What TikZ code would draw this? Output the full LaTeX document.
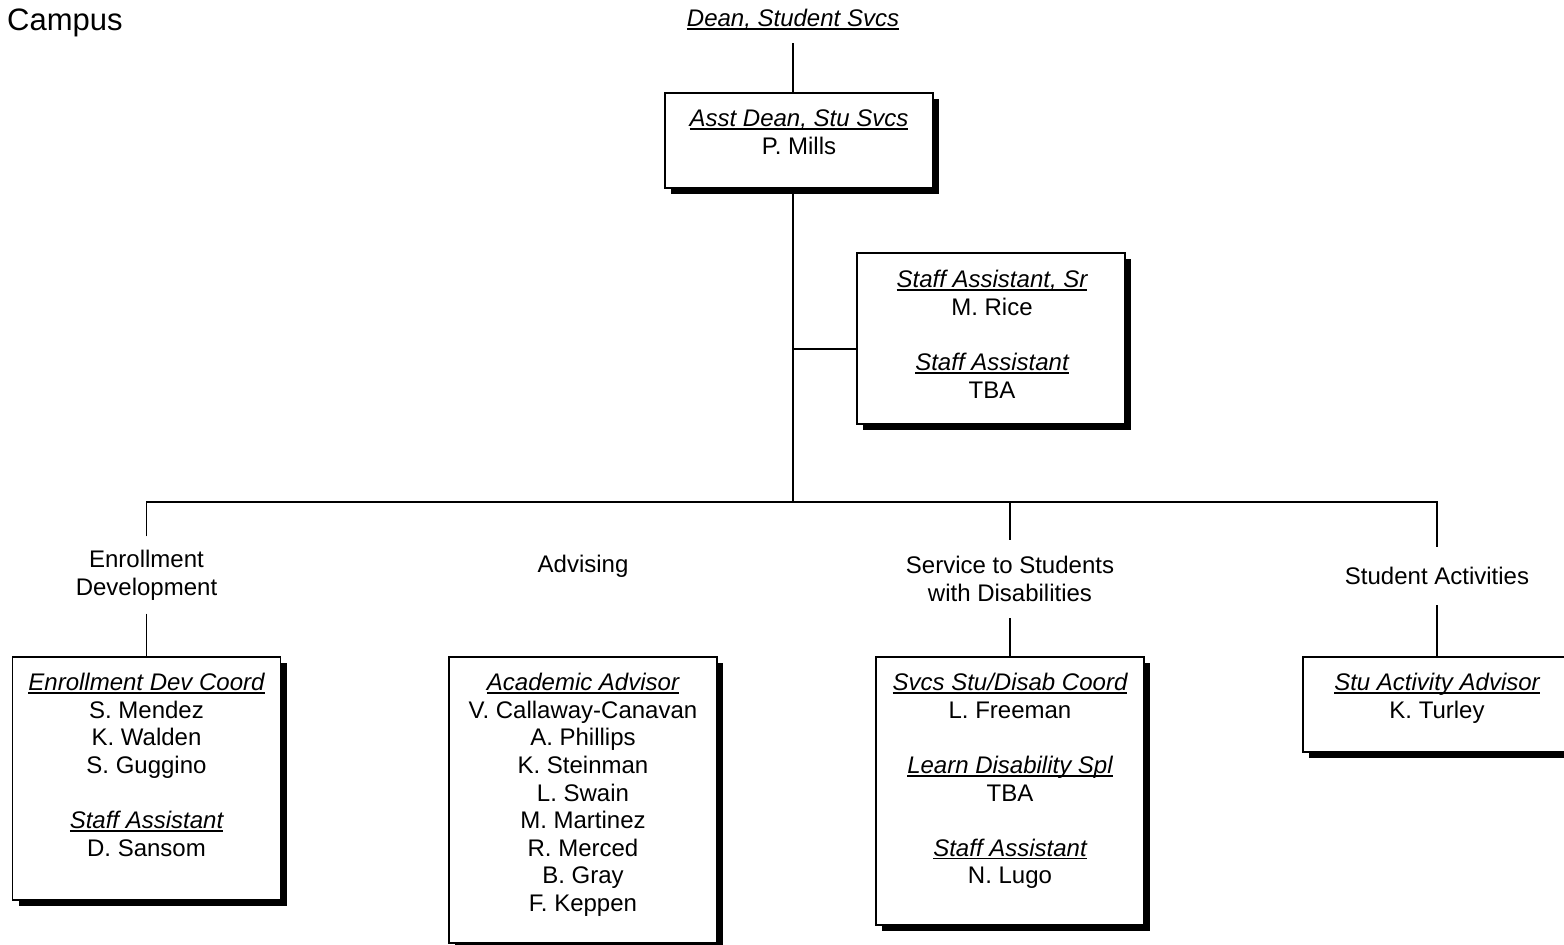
\documentclass[tikz,border=0pt]{standalone}
\usepackage{fontspec}
\setmainfont{Liberation Sans}
\usetikzlibrary{shadows}
\newsavebox\ulbox
\newcommand\myul[1]{\sbox\ulbox{\itshape #1}\rlap{\rule[-3pt]{\wd\ulbox}{1.4pt}}\usebox\ulbox}
\newcommand\ttl[1]{\rule{0pt}{18pt}\myul{#1}}
\begin{document}
\begin{tikzpicture}[x=1pt,y=-1pt,
  txt/.style={font=\fontsize{24}{27.6}\selectfont, align=center, inner sep=0pt},
  orgbox/.style={draw=black, line width=1.4pt, fill=white, inner sep=0pt, minimum width=268pt,
    drop shadow={shadow xshift=6pt, shadow yshift=-6pt, opacity=1, fill=black}},
  conn/.style={line width=1.7pt},
  block/.style={txt, anchor=north}]
\useasboundingbox (0,0) rectangle (1564,945);

% title texts
\node[txt, font=\fontsize{31}{36}\selectfont, anchor=west] (campus) at (7,23) {Campus};
\node[txt, anchor=base] (dean) at (793,26.5) {\myul{Dean, Student Svcs}};

% coordinates
\coordinate (deanfoot) at (793,43);
\coordinate (trunk) at (793,502);
\coordinate (br) at (793,349);
\coordinate (barL) at (146.5,502);
\coordinate (barS) at (1010,502);
\coordinate (barR) at (1437,502);

% boxes
\node[orgbox, minimum height=95pt] (ad) at (799,140.5) {};
\node[block] (adT) at (799,108.5) {\ttl{Asst Dean, Stu Svcs}\\P. Mills};

\node[orgbox, minimum height=171pt] (staff) at (991,338.5) {};
\node[block] (staffT) at (992,269.5) {\ttl{Staff Assistant, Sr}\\M. Rice\\[27.6pt]\ttl{Staff Assistant}\\TBA};

\node[orgbox, minimum height=243pt] (enr) at (146.5,778.5) {};
\node[block] (enrT) at (146.5,672.5) {\ttl{Enrollment Dev Coord}\\S. Mendez\\K. Walden\\S. Guggino\\[27.6pt]\ttl{Staff Assistant}\\D. Sansom};

\node[orgbox, minimum height=286pt] (adv) at (583,800) {};
\node[block] (advT) at (583,672.5) {\ttl{Academic Advisor}\\V. Callaway-Canavan\\A. Phillips\\K. Steinman\\L. Swain\\M. Martinez\\R. Merced\\B. Gray\\F. Keppen};

\node[orgbox, minimum height=268pt] (svc) at (1010,791) {};
\node[block] (svcT) at (1010,672.5) {\ttl{Svcs Stu/Disab Coord}\\L. Freeman\\[27.6pt]\ttl{Learn Disability Spl}\\TBA\\[27.6pt]\ttl{Staff Assistant}\\N. Lugo};

\node[orgbox, minimum height=95pt] (sa) at (1437,704.5) {};
\node[block] (saT) at (1437,672.5) {\ttl{Stu Activity Advisor}\\K. Turley};

% department labels
\node[txt, minimum height=77pt] (lblE) at (146.5,575) {Enrollment\\Development};
\node[txt] (lblA) at (583,566) {Advising};
\node[txt, minimum height=78pt] (lblS) at (1010,579) {Service to Students\\with Disabilities};
\node[txt, minimum height=58pt] (lblSA) at (1437,576) {Student Activities};

% connectors
\draw[conn] (deanfoot) -- (deanfoot |- ad.north);
\draw[conn] (trunk |- ad.south) -- (trunk);
\draw[conn] (br) -- (br -| staff.west);
\draw[conn] (lblE.north) -- (barL) -- (barR) -- (lblSA.north);
\draw[conn] (barS) -- (lblS.north);
\draw[conn] (lblE.south) -- (enr.north);
\draw[conn] (lblS.south) -- (svc.north);
\draw[conn] (lblSA.south) -- (sa.north);
\end{tikzpicture}
\end{document}
